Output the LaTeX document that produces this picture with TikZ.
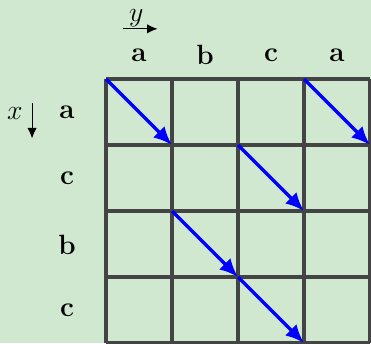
\documentclass[tikz,border=0pt]{standalone}
\usepackage{amsmath}
\usetikzlibrary{arrows.meta}
\definecolor{bgGreen}{RGB}{208,231,208}
\definecolor{gridGray}{RGB}{68,68,68}
\tikzset{
    cellgrid/.style={line width=1.4pt, draw=gridGray},
    matcharrow/.style={-{Latex[length=8pt,width=7pt]}, line width=1.5pt, blue},
    axisarrow/.style={-{Latex[length=4.5pt,width=4pt]}, thin},
    seqlabel/.style={font=\large\bfseries}
}

\begin{document}
\begin{tikzpicture}[>=latex]
        % ==== BACKGROUND ====
        \fill[bgGreen] (-1.606,0) rectangle (4.015,5.197);
        \useasboundingbox (-1.606,0) rectangle (4.015,5.197);
        % ==== GRID ====
        \draw[cellgrid] (0,0) grid (4,4);
        \foreach \i in {0,...,4}
            \foreach \j in {0,...,4}
                \coordinate (p-\i-\j) at (\i,\j);
        % ==== LABELS ====
        \node[seqlabel] (ya) at (0.5,4.36) {a};
        \node[seqlabel] (yb) at (1.5,4.36) {b};
        \node[seqlabel] (yc) at (2.5,4.36) {c};
        \node[seqlabel] (yd) at (3.5,4.36) {a};
        \node[seqlabel] (xa) at (-0.59,3.49) {a};
        \node[seqlabel] (xb) at (-0.59,2.49) {c};
        \node[seqlabel] (xc) at (-0.59,1.49) {b};
        \node[seqlabel] (xd) at (-0.59,0.49) {c};
        % ==== AXES ====
        \node (ylab) at (0.46,4.92) {\large $y$};
        \coordinate (ystart) at (0.26,4.76);
        \coordinate (yend) at (0.78,4.76);
        \draw[axisarrow] (ystart) -- (yend);
        \node (xlab) at (-1.38,3.47) {\large $x$};
        \coordinate (xstart) at (-1.12,3.63);
        \coordinate (xend) at (-1.12,3.1);
        \draw[axisarrow] (xstart) -- (xend);
        % ==== MATCHES ====
        \draw[matcharrow] (p-0-4) -- (p-1-3);
        \draw[matcharrow] (p-3-4) -- (p-4-3);
        \draw[matcharrow] (p-2-3) -- (p-3-2);
        \draw[matcharrow] (p-1-2) -- (p-2-1);
        \draw[matcharrow] (p-2-1) -- (p-3-0);
     \end{tikzpicture}
\end{document}
